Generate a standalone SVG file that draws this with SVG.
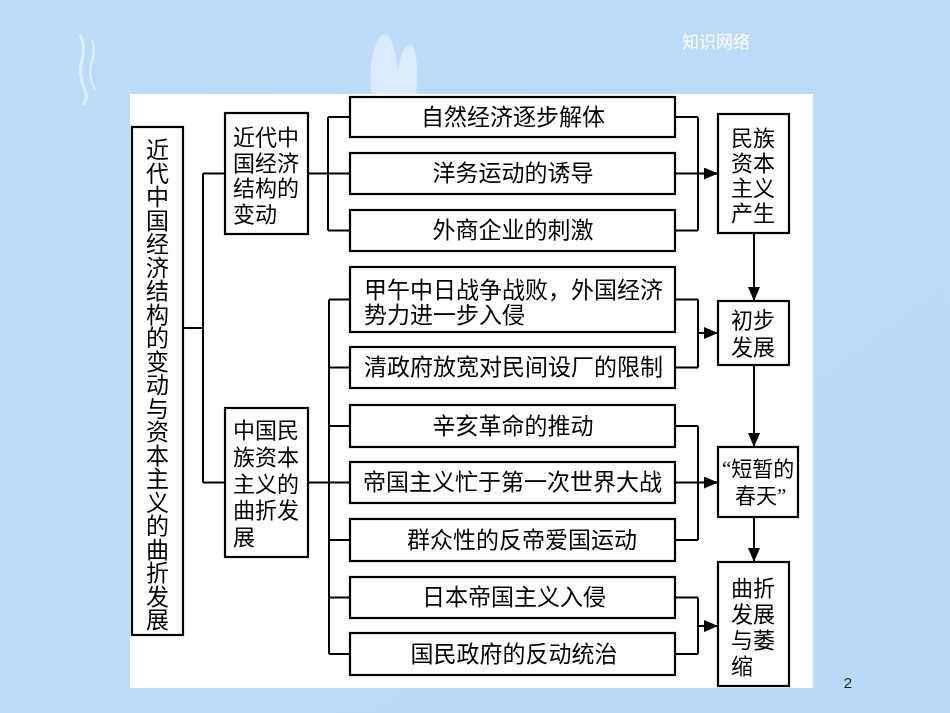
<svg xmlns="http://www.w3.org/2000/svg" width="950" height="713" viewBox="0 0 950 713">
<defs>
<linearGradient id="bg" x1="0" y1="0" x2="1" y2="1">
<stop offset="0" stop-color="#bcdcfa"/>
<stop offset="1" stop-color="#bad9f8"/>
</linearGradient>
<marker id="ah" markerUnits="userSpaceOnUse" markerWidth="14" markerHeight="12" refX="13" refY="6" orient="auto">
<path d="M0,0 L14,6 L0,12 Z" fill="#000"/>
</marker>
<style>
.box{fill:#fff;stroke:#000;stroke-width:2.2}
.t{font-family:"Noto Sans CJK SC","Noto Sans",sans-serif;fill:#000;font-size:22px}
.m{font-family:"Noto Sans CJK SC","Noto Sans",sans-serif;fill:#000;font-size:23px}
.c{text-anchor:middle}
.ln{fill:none;stroke:#000;stroke-width:2}
.q{font-family:"Liberation Serif",serif}
</style>
</defs>
<rect width="950" height="713" fill="url(#bg)"/>
<g opacity="0.55" fill="#fff">
<path d="M372,95 C368,70 372,45 382,35 C390,30 396,50 398,70 C400,55 406,42 412,45 C418,52 418,80 416,95 Z" opacity="0.8"/>
<path d="M80,35 q6,10 2,25 q-4,15 3,30 q4,8 -2,15" fill="none" stroke="#fff" stroke-width="3"/>
<path d="M92,40 q4,12 -1,24 q-3,12 4,26" fill="none" stroke="#fff" stroke-width="2"/>
</g>
<text x="716" y="48" class="c" style="font-family:'Noto Sans CJK SC',sans-serif;font-size:17px;fill:#fff">知识网络</text>
<text x="848" y="688" class="c" style="font-family:'Liberation Sans',sans-serif;font-size:15px;fill:#222">2</text>
<rect x="130" y="94" width="683" height="594" fill="#fff"/>

<g id="connectors">
<path class="ln" d="M183,328 H203 M203,173.5 V482.5 M203,173.5 H225 M203,482.5 H225"/>
<path class="ln" d="M308,173.5 H328 M328,117 V230.5 M328,117 H350 M328,173.5 H350 M328,230.5 H350"/>
<path class="ln" d="M308,482.5 H329 M329,299.5 V654 M329,299.5 H350 M329,367.5 H350 M329,426 H350 M329,482.5 H350 M329,540 H350 M329,597.5 H350 M329,654 H350"/>
<path class="ln" d="M675,117 H698 M675,173.5 H698 M675,230.5 H698 M698,117 V230.5"/>
<path class="ln" d="M698,173.5 H717" marker-end="url(#ah)"/>
<path class="ln" d="M675,299.5 H698 M675,367.5 H698 M698,299.5 V367.5"/>
<path class="ln" d="M698,333 H717" marker-end="url(#ah)"/>
<path class="ln" d="M675,426 H698 M675,482.5 H698 M675,540 H698 M698,426 V540"/>
<path class="ln" d="M698,482.5 H717" marker-end="url(#ah)"/>
<path class="ln" d="M675,597.5 H698 M675,654 H698 M698,597.5 V654"/>
<path class="ln" d="M698,626 H717" marker-end="url(#ah)"/>
<path class="ln" d="M754,233 V300" marker-end="url(#ah)"/>
<path class="ln" d="M754,365 V446" marker-end="url(#ah)"/>
<path class="ln" d="M754,517 V561" marker-end="url(#ah)"/>
</g>

<g id="root">
<rect class="box" x="132" y="127" width="51" height="508"/>
<text class="m" x="157.5" y="138" style="writing-mode:vertical-rl;letter-spacing:0.5px">近代中国经济结构的变动与资本主义的曲折发展</text>
</g>

<g id="b1">
<rect class="box" x="225" y="113" width="83" height="121"/>
<text class="t" x="233" y="145"><tspan x="233">近代中</tspan><tspan x="233" dy="25.6">国经济</tspan><tspan x="233" dy="25.6">结构的</tspan><tspan x="233" dy="25.6">变动</tspan></text>
</g>
<g id="b2">
<rect class="box" x="225" y="408" width="83" height="149"/>
<text class="t" x="233" y="438"><tspan x="233">中国民</tspan><tspan x="233" dy="26.8">族资本</tspan><tspan x="233" dy="26.8">主义的</tspan><tspan x="233" dy="26.8">曲折发</tspan><tspan x="233" dy="26.8">展</tspan></text>
</g>

<g id="m1"><rect class="box" x="350" y="97" width="325" height="40"/><text class="m c" x="513" y="125">自然经济逐步解体</text></g>
<g id="m2"><rect class="box" x="350" y="153" width="325" height="41"/><text class="m c" x="513" y="181">洋务运动的诱导</text></g>
<g id="m3"><rect class="box" x="350" y="210" width="325" height="41"/><text class="m c" x="513" y="238">外商企业的刺激</text></g>
<g id="m4"><rect class="box" x="350" y="267" width="325" height="65"/><text class="m" x="364" y="298"><tspan x="364">甲午中日战争战败，外国经济</tspan><tspan x="364" dy="25">势力进一步入侵</tspan></text></g>
<g id="m5"><rect class="box" x="350" y="347" width="325" height="41"/><text class="m" x="364" y="375">清政府放宽对民间设厂的限制</text></g>
<g id="m6"><rect class="box" x="350" y="405" width="325" height="42"/><text class="m c" x="513" y="434">辛亥革命的推动</text></g>
<g id="m7"><rect class="box" x="350" y="462" width="325" height="41"/><text class="m" x="363" y="490">帝国主义忙于第一次世界大战</text></g>
<g id="m8"><rect class="box" x="350" y="519" width="325" height="42"/><text class="m c" x="522" y="548">群众性的反帝爱国运动</text></g>
<g id="m9"><rect class="box" x="350" y="577" width="325" height="41"/><text class="m c" x="514" y="605">日本帝国主义入侵</text></g>
<g id="m10"><rect class="box" x="350" y="633" width="325" height="42"/><text class="m c" x="514" y="662">国民政府的反动统治</text></g>

<g id="r1"><rect class="box" x="718" y="114" width="71" height="119"/><text class="t" x="731" y="146"><tspan x="731">民族</tspan><tspan x="731" dy="25">资本</tspan><tspan x="731" dy="25">主义</tspan><tspan x="731" dy="25">产生</tspan></text></g>
<g id="r2"><rect class="box" x="718" y="301" width="71" height="64"/><text class="t" x="731" y="328"><tspan x="731">初步</tspan><tspan x="731" dy="27">发展</tspan></text></g>
<g id="r3"><rect class="box" x="718" y="447" width="80" height="70"/><text class="t" x="722" y="476" style="font-size:21px"><tspan x="722"><tspan class="q">“</tspan>短暂的</tspan><tspan x="735" dy="27">春天<tspan class="q">”</tspan></tspan></text></g>
<g id="r4"><rect class="box" x="718" y="562" width="71" height="124"/><text class="t" x="731" y="596"><tspan x="731">曲折</tspan><tspan x="731" dy="26">发展</tspan><tspan x="731" dy="26">与萎</tspan><tspan x="731" dy="26">缩</tspan></text></g>
</svg>
